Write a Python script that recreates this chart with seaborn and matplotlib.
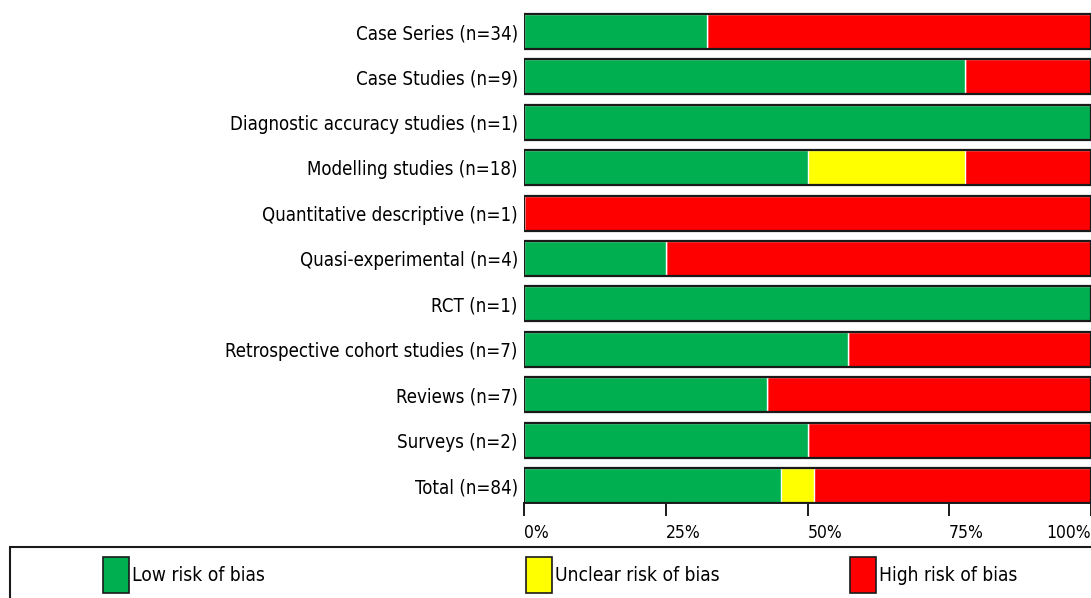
import pandas as pd
import seaborn as sns
import matplotlib.pyplot as plt
from matplotlib.patches import Patch, Rectangle

# risk of bias counts per study design
studies = ["Case Series (n=34)", "Case Studies (n=9)", "Diagnostic accuracy studies (n=1)",
           "Modelling studies (n=18)", "Quantitative descriptive (n=1)", "Quasi-experimental (n=4)",
           "RCT (n=1)", "Retrospective cohort studies (n=7)", "Reviews (n=7)", "Surveys (n=2)",
           "Total (n=84)"]
low = [11, 7, 1, 9, 0, 1, 1, 4, 3, 1, 38]
unclear = [0, 0, 0, 5, 0, 0, 0, 0, 0, 0, 5]
high = [23, 2, 0, 4, 1, 3, 0, 3, 4, 1, 41]

tick_vals = [0, 25, 50, 75, 100]
tick_labels = ["0%", "25%", "50%", "75%", "100%"]
legend_labels = ["Low risk of bias", "Unclear risk of bias", "High risk of bias"]
colors = ["#00B050", "#FFFF00", "#FF0000"]

df = pd.DataFrame({"study": studies, "low": low, "unclear": unclear, "high": high})
df["n"] = df.low + df.unclear + df.high
df["low_pct"] = df.low / df.n * 100
df["unclear_cum"] = (df.low + df.unclear) / df.n * 100
df["total"] = 100.0

sns.set_style("white")
plt.rcParams["font.family"] = ["DejaVu Sans"]
plt.rcParams["font.stretch"] = "condensed"
plt.rcParams["text.color"] = "black"
plt.rcParams["xtick.color"] = "black"
plt.rcParams["ytick.color"] = "black"

fig = plt.figure(figsize=(10.91, 5.98), dpi=100)
ax = fig.add_axes([524 / 1091, 1 - 503 / 598, 1 - 524 / 1091, (503 - 8.8) / 598])

# stacked bars: draw the cumulative layers on top of each other
sns.barplot(data=df, y="study", x="total", color=colors[2], width=0.77, orient="h",
            saturation=1, ax=ax)
sns.barplot(data=df, y="study", x="unclear_cum", color=colors[1], width=0.77, orient="h",
            saturation=1, ax=ax)
sns.barplot(data=df, y="study", x="low_pct", color=colors[0], width=0.77, orient="h",
            saturation=1, ax=ax)
# black outline round each bar
sns.barplot(data=df, y="study", x="total", fill=False, edgecolor="#1a1a1a", linewidth=1.6,
            width=0.77, orient="h", ax=ax)

ax.set_xlim(0, 100)
ax.set_ylim(len(studies) - 1 + 0.385, -0.5)
ax.set_xlabel("")
ax.set_ylabel("")
sns.despine(ax=ax, left=True, top=True, right=True)
ax.spines["bottom"].set_linewidth(1.4)
ax.spines["bottom"].set_color("#1a1a1a")

ax.set_xticks(tick_vals)
ax.set_xticklabels(tick_labels)
for lbl in ax.get_xticklabels():
    lbl.set_ha("left")
ax.get_xticklabels()[-1].set_ha("right")
ax.tick_params(axis="x", bottom=True, direction="out", length=9, width=1.4, color="#1a1a1a",
               pad=6, labelsize=12.5)
ax.tick_params(axis="y", left=False, pad=1, labelsize=13.4)

# legend box along the bottom
fig.add_artist(Rectangle((10 / 1091, -0.01), 1.0, 1 - 547 / 598 + 0.01,
                         transform=fig.transFigure, fill=False, edgecolor="#1a1a1a",
                         linewidth=1.5))
legend_x = [93 / 1091, 516 / 1091, 840 / 1091]
for lab, col, xpos in zip(legend_labels, colors, legend_x):
    fig.legend(handles=[Patch(facecolor=col, edgecolor="#1a1a1a", linewidth=1.2)],
               labels=[lab], loc="center left", bbox_to_anchor=(xpos, 1 - 575 / 598),
               frameon=False, fontsize=13.8, handlelength=1.4, handleheight=2.5,
               handletextpad=0.15, borderpad=0)

fig.savefig("out.png", dpi=100)
